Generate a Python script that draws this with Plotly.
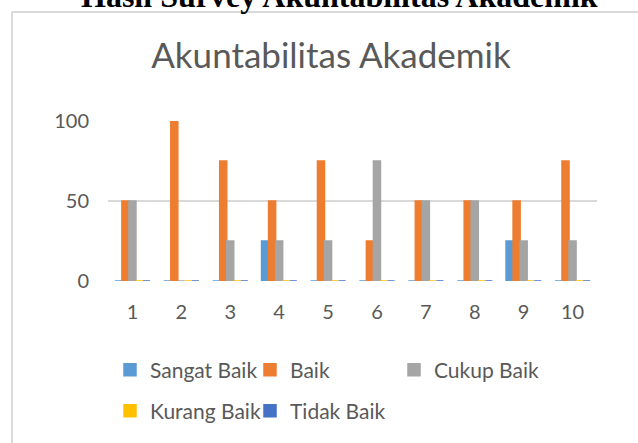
import plotly.graph_objects as go

categories = ["1", "2", "3", "4", "5", "6", "7", "8", "9", "10"]
sangat_baik = [0, 0, 0, 25, 0, 0, 0, 0, 25, 0]
baik = [50, 100, 75, 50, 75, 25, 50, 50, 50, 75]
cukup_baik = [50, 0, 25, 25, 25, 75, 50, 50, 25, 25]
kurang_baik = [0, 0, 0, 0, 0, 0, 0, 0, 0, 0]
tidak_baik = [0, 0, 0, 0, 0, 0, 0, 0, 0, 0]
y_ticks = [0, 50, 100]

series = [
    ("Sangat Baik", sangat_baik, "#5B9BD5", "legend"),
    ("Baik", baik, "#ED7D31", "legend"),
    ("Cukup Baik", cukup_baik, "#A5A5A5", "legend3"),
    ("Kurang Baik", kurang_baik, "#FFC000", "legend2"),
    ("Tidak Baik", tidak_baik, "#4472C4", "legend2"),
]

FONT = "Lato"
TXT = "#595959"

fig = go.Figure()
for name, vals, col, lg in series:
    fig.add_trace(go.Bar(
        x=categories, y=vals, name=name,
        marker=dict(color=col, line=dict(color=col, width=1.5)),
        legend=lg,
    ))

W, H = 638, 443
L, R, T, B = 108, 41, 121, 162
pw, ph = W - L - R, H - T - B

def px(x):
    return (x - L) / pw

def py(y):
    return (H - B - y) / ph

legend_common = dict(orientation="h", xanchor="left", yanchor="middle",
                     font=dict(family=FONT, size=21, color=TXT),
                     traceorder="normal")

fig.update_layout(
    width=W, height=H,
    margin=dict(l=L, r=R, t=T, b=B, autoexpand=False),
    paper_bgcolor="white", plot_bgcolor="white",
    barmode="group", bargap=0.28, bargroupgap=0,
    font=dict(family=FONT, color=TXT),
    title=dict(text="Akuntabilitas Akademik", xref="container", x=331 / W,
               xanchor="center", y=1 - 56 / H, yanchor="middle",
               font=dict(family=FONT, size=35, color=TXT)),
    xaxis=dict(type="category", showgrid=False, showline=False, ticks="",
               tickfont=dict(family=FONT, size=20, color=TXT),
               ticklabelstandoff=17),
    yaxis=dict(range=[0, 100], tickvals=y_ticks, showgrid=True,
               gridcolor="#D9D9D9", gridwidth=1.5, zeroline=False,
               showline=False, ticks="",
               tickfont=dict(family=FONT, size=20, color=TXT),
               ticklabelstandoff=18),
    legend=dict(x=px(110), y=py(370), entrywidthmode="pixels", entrywidth=95,
                **legend_common),
    legend3=dict(x=px(394), y=py(370), **legend_common),
    legend2=dict(x=px(110), y=py(411), entrywidthmode="pixels", entrywidth=95,
                 **legend_common),
    showlegend=True,
)

# chart frame (left and top edges visible)
fig.add_shape(type="line", xref="paper", yref="paper",
              x0=px(12), x1=px(12), y0=py(H + 5), y1=py(12),
              line=dict(color="#D9D9D9", width=2))
fig.add_shape(type="line", xref="paper", yref="paper",
              x0=px(12), x1=px(W + 5), y0=py(12), y1=py(12),
              line=dict(color="#D9D9D9", width=2))

# document heading above the chart (partly cut off at top)
fig.add_annotation(text="<b>Hasil Survey Akuntabilitas Akademik</b>",
                   xref="paper", yref="paper", x=px(339), y=py(16),
                   xanchor="center", yanchor="bottom", showarrow=False,
                   font=dict(family="Liberation Serif", size=32, color="black"))

fig.write_html("out.html", config={"displayModeBar": False},
               post_script="document.body.style.margin='0';document.body.style.overflow='hidden';")
